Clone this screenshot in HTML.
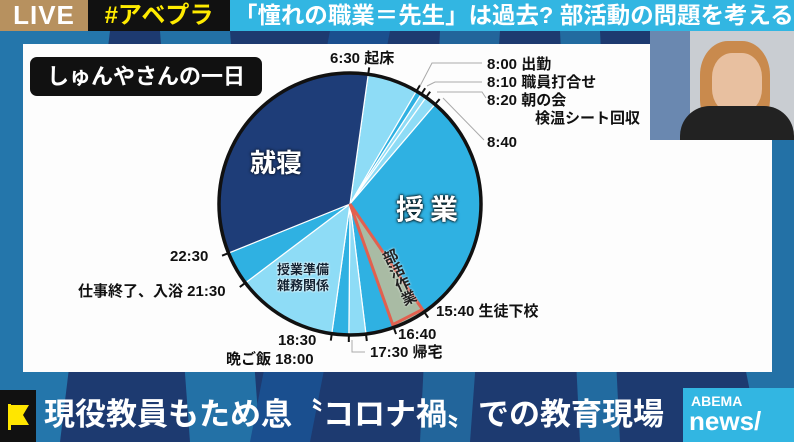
<!DOCTYPE html>
<html><head><meta charset="utf-8"><style>
*{margin:0;padding:0}
body{width:794px;height:442px;overflow:hidden;background:#1d3a70;position:relative;font-family:"Liberation Sans","Noto Sans CJK JP",sans-serif}
.a{position:absolute;white-space:nowrap}
.lb{font-weight:bold;font-size:15px;color:#111;line-height:17px}
</style></head><body>
<svg class="a" style="left:0;top:0" width="794" height="442">
<rect width="794" height="442" fill="#1d3a70"/>
<polygon points="0,31 110,31 60,442 0,442" fill="#2aa8dc" opacity=".55"/>
<polygon points="160,31 230,31 260,442 190,442" fill="#2aa8dc" opacity=".5"/>
<polygon points="330,31 390,31 310,442 250,442" fill="#1a4f8f"/>
<polygon points="440,31 500,31 470,442 420,442" fill="#2aa8dc" opacity=".4"/>
<polygon points="560,31 600,31 620,442 580,442" fill="#2aa8dc" opacity=".45"/>
<polygon points="700,140 794,140 794,442 760,442" fill="#2aa8dc" opacity=".5"/>
</svg>
<div class="a" style="left:0;top:0;width:794px;height:31px;background:#32b6e2"></div>
<div class="a" style="left:0;top:0;width:88px;height:31px;background:#b7915f;color:#fff;font-size:26px;font-weight:bold;line-height:31px;text-align:center;letter-spacing:1px">LIVE</div>
<div class="a" style="left:88px;top:0;width:142px;height:31px;background:#111;color:#ffeb00;font-size:24px;font-weight:bold;line-height:31px;text-align:center">#アベプラ</div>
<div class="a" style="left:234px;top:0;color:#fff;font-size:23px;font-weight:bold;line-height:31px;transform:scaleX(1.02);transform-origin:left">「憧れの職業＝先生」は過去? 部活動の問題を考える</div>
<div class="a" style="left:23px;top:44px;width:749px;height:328px;background:#fdfdfd"></div>
<div class="a" style="left:650px;top:31px;width:144px;height:109px;background:#c9cdd2">
<div class="a" style="left:0;top:0;width:40px;height:109px;background:#6a88b0"></div>
<div class="a" style="left:50px;top:10px;width:70px;height:85px;background:#c98a4d;border-radius:40% 40% 30% 30%"></div>
<div class="a" style="left:62px;top:22px;width:50px;height:60px;background:#e8c0a0;border-radius:40%"></div>
<div class="a" style="left:30px;top:75px;width:114px;height:34px;background:#222;border-radius:30px 30px 0 0"></div>
</div>
<div class="a" style="left:30px;top:57px;width:232px;height:39px;background:#111;border-radius:7px;color:#fff;font-size:22px;font-weight:bold;line-height:39px;text-align:center">しゅんやさんの一日</div>
<svg id="pie" class="a" style="left:0;top:0" width="794" height="442"></svg>
<div class="a" style="left:250px;top:143px;color:#fff;font-size:26px;font-weight:bold;text-shadow:0 0 3px #000">就寝</div>
<div class="a" style="left:396px;top:188px;color:#fff;font-size:28px;font-weight:bold;letter-spacing:6px;text-shadow:0 0 3px #000,0 0 2px #000">授業</div>
<div class="a" style="left:277px;top:262px;color:#123;font-size:13px;font-weight:bold;line-height:16px;text-shadow:0 0 2px #fff,0 0 2px #fff">授業準備<br>雑務関係</div>
<div class="a" style="left:376px;top:250px;font-size:15px;font-weight:bold;color:#222;writing-mode:vertical-rl;transform:rotate(-24deg);transform-origin:top center;text-shadow:0 0 2px #fff">部活作業</div>
<div class="a lb" style="left:330px;top:50px">6:30 起床</div>
<div class="a lb" style="left:487px;top:56px">8:00 出勤</div>
<div class="a lb" style="left:487px;top:74px">8:10 職員打合せ</div>
<div class="a lb" style="left:487px;top:92px">8:20 朝の会</div>
<div class="a lb" style="left:535px;top:110px">検温シート回収</div>
<div class="a lb" style="left:487px;top:134px">8:40</div>
<div class="a lb" style="left:436px;top:303px">15:40 生徒下校</div>
<div class="a lb" style="left:398px;top:326px">16:40</div>
<div class="a lb" style="left:370px;top:344px">17:30 帰宅</div>
<div class="a lb" style="left:278px;top:332px">18:30</div>
<div class="a lb" style="left:226px;top:351px">晩ご飯 18:00</div>
<div class="a lb" style="left:170px;top:248px">22:30</div>
<div class="a lb" style="left:78px;top:283px">仕事終了、入浴 21:30</div>
<div class="a" style="left:0;top:390px;width:36px;height:52px;background:#111"></div>
<svg class="a" style="left:6px;top:402px" width="26" height="28"><path d="M3,3 L23,3 L17,13 L23,23 L3,23 Z" fill="#ffe600"/><rect x="2" y="2" width="3" height="26" fill="#ffe600"/></svg>
<div class="a" style="left:44px;top:392px;color:#fff;font-size:31px;font-weight:bold;line-height:46px">現役教員もため息〝コロナ禍〟での教育現場</div>
<div class="a" style="left:683px;top:388px;width:111px;height:54px;background:#32b6e2;color:#fff;font-weight:bold"><div style="font-size:14px;margin:6px 0 0 8px;line-height:14px">ABEMA</div><div style="font-size:26px;margin-left:6px;line-height:26px">news/</div></div>
<script>
var cx=350,cy=204,r=131,s=document.getElementById('pie');
function ang(t){return((t-6.5)*15+8)*Math.PI/180}
function pt(t,rr){var a=ang(t);return[cx+rr*Math.sin(a),cy-rr*Math.cos(a)]}
var L='#8edcf6',M='#2fb1e2',D='#1e3d78';
var seg=[[6.5,8,L],[8,8.1667,M],[8.1667,8.3333,L],[8.3333,8.6667,L],[8.6667,15.6667,M],[15.6667,16.6667,'#a9bba4'],[16.6667,17.5,M],[17.5,18,L],[18,18.5,M],[18.5,21.5,L],[21.5,22.5,M],[22.5,30.5,D]];
var h='';
seg.forEach(function(g){var a=pt(g[0],r),b=pt(g[1],r),lg=(g[1]-g[0])*15>180?1:0;
h+='<path d="M'+cx+','+cy+'L'+a[0]+','+a[1]+'A'+r+','+r+' 0 '+lg+' 1 '+b[0]+','+b[1]+'Z" fill="'+g[2]+'" stroke="#fff" stroke-width="1.2"/>';});
var a=pt(15.6667,r-3),b=pt(16.6667,r-3);
h+='<path d="M'+cx+','+cy+'L'+a[0]+','+a[1]+'L'+b[0]+','+b[1]+'Z" fill="none" stroke="#e2604f" stroke-width="3"/>';
h+='<circle cx="'+cx+'" cy="'+cy+'" r="'+r+'" fill="none" stroke="#111" stroke-width="3.5"/>';
[6.5,8,8.1667,8.3333,8.6667,15.6667,16.6667,17.5,18,18.5,21.5,22.5].forEach(function(t){var p=pt(t,r),q=pt(t,r+7);h+='<line x1="'+p[0]+'" y1="'+p[1]+'" x2="'+q[0]+'" y2="'+q[1]+'" stroke="#111" stroke-width="2"/>'});
h+='<polyline points="420,86 432,63 482,63" fill="none" stroke="#aaa"/><polyline points="427,86 435,82 482,82" fill="none" stroke="#aaa"/><polyline points="437,92 482,92 486,98" fill="none" stroke="#aaa"/><polyline points="443,98 484,140" fill="none" stroke="#aaa"/>';
h+='<polyline points="352,340 352,352 365,352" fill="none" stroke="#aaa"/>';
s.innerHTML=h;
</script>
</body></html>
